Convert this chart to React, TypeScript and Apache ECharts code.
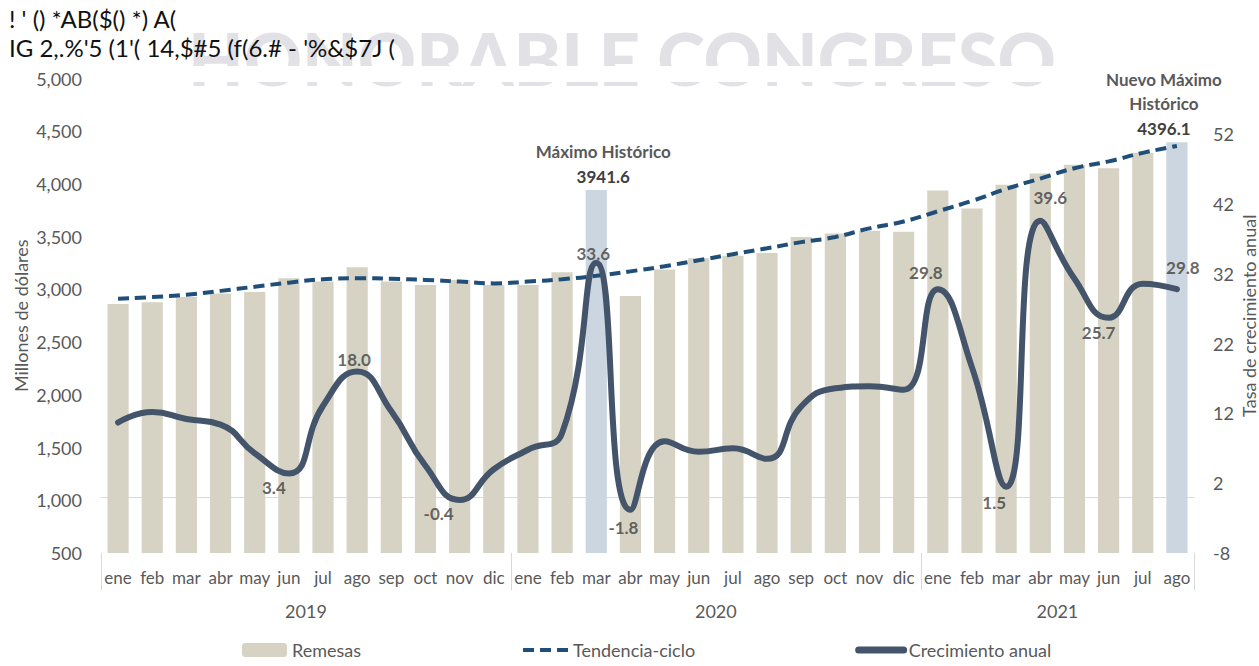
import React, { useEffect, useRef } from "react";
import * as echarts from "echarts";

const monthNames = ["ene", "feb", "mar", "abr", "may", "jun", "jul", "ago", "sep", "oct", "nov", "dic"];
const years = ["2019", "2020", "2021"];
const monthsPerYear = [12, 12, 8];
const categories = years.flatMap((y, k) => monthNames.slice(0, monthsPerYear[k]));

// Remesas (millones de dólares)
const remesas = [
  2862, 2878, 2927, 2960, 2976, 3106, 3074, 3210, 3074, 3041, 3090, 3041,
  3041, 3162, 3941.6, 2937, 3188, 3295, 3318, 3344, 3497, 3530, 3556, 3546,
  3937, 3768, 3992, 4100, 4181, 4149, 4295, 4396.1,
];
// Tendencia-ciclo
const tendencia = [
  2911, 2927, 2950, 2986, 3025, 3064, 3096, 3106, 3100, 3090, 3074, 3057,
  3074, 3096, 3129, 3171, 3220, 3276, 3334, 3390, 3448, 3497, 3579, 3644,
  3741, 3839, 3953, 4051, 4149, 4214, 4295, 4360,
];
// Crecimiento anual (%)
const crecimiento = [
  10.7, 12.2, 11.2, 10.4, 6.3, 3.4, 13.1, 18.0, 12.3, 4.5, -0.4, 4.0,
  6.8, 9.2, 33.6, -1.8, 8.0, 6.5, 7.0, 5.5, 13.0, 15.6, 15.9, 15.4,
  29.8, 18.6, 1.5, 39.6, 31.3, 25.7, 30.6, 29.8,
];
const highlightedBars = [14, 31];
const barAnnotations: Record<number, string[]> = {
  14: ["Máximo Histórico"],
  31: ["Nuevo Máximo", "Histórico"],
};
const growthLabelIdx = [5, 7, 10, 14, 15, 24, 26, 27, 29, 31];
const leftTicks = { min: 500, max: 5000, interval: 500 };
const rightTicks = { min: -8, max: 60, interval: 10 };

const titleLine1 = "! ' () *AB($() *) A(";
const titleLine2 = "IG 2,.%'5 (1'( 14,$#5 (f(6.# - '%&$7J (";
const watermark = "HONORABLE CONGRESO";

// label placement (px offsets), kept separate from the data
const growthLabelOffsets: Record<number, [number, number]> = {
  5: [-15, 14],
  7: [-3, -12],
  10: [-21, 14],
  14: [-3, -9],
  15: [-7, 18],
  24: [-12, -17],
  26: [-12, 16],
  27: [10, -23],
  29: [-10, 15],
  31: [6, -22],
};
const barLabelOffsets: Record<number, [number, number]> = { 14: [7, 0], 31: [-13, 0] };

const FONT = "Lato, 'Noto Sans', sans-serif";
const GREY = "#595959";

export default function App() {
  const ref = useRef<HTMLDivElement>(null);
  useEffect(() => {
    if (!ref.current) return;
    const chart = echarts.init(ref.current, null, { renderer: "svg" });
    const n = categories.length;

    const yearCenters: Record<string, string> = {};
    const boundaries: number[] = [0];
    let start = 0;
    years.forEach((y, k) => {
      yearCenters[(start + monthsPerYear[k] / 2 - 0.5).toFixed(1)] = y;
      start += monthsPerYear[k];
      boundaries.push(start);
    });

    const barData = remesas.map((v, i) => {
      if (!highlightedBars.includes(i)) return v;
      const lines = barAnnotations[i] || [];
      return {
        value: v,
        itemStyle: { color: "#ccd6e0" },
        label: {
          show: true,
          position: "top",
          distance: 1,
          offset: barLabelOffsets[i] || [0, 0],
          formatter: () =>
            lines.map((l) => `{a|${l}}`).join("\n") + (lines.length ? "\n" : "") + `{b|${v.toFixed(1)}}`,
          rich: {
            a: { fontFamily: FONT, fontSize: 17, fontWeight: "bold", color: GREY, lineHeight: 24, align: "center" },
            b: { fontFamily: FONT, fontSize: 17, fontWeight: "bold", color: "#404040", lineHeight: 26, align: "center" },
          },
        },
      };
    });

    const labelData = crecimiento.map((v, i) =>
      growthLabelIdx.includes(i)
        ? {
            value: v,
            label: {
              show: true,
              position: "inside",
              offset: growthLabelOffsets[i] || [0, 0],
              formatter: v.toFixed(1),
              fontFamily: FONT,
              fontSize: 17,
              fontWeight: "bold",
              color: "#404040",
            },
          }
        : "-"
    );

    const baseGraphic = [
      {
        id: "wm",
        type: "text",
        x: 188,
        y: 58,
        z: 0,
        style: {
          text: watermark,
          font: `900 72px ${FONT}`,
          fill: "#e2e2e6",
          textVerticalAlign: "middle",
        },
      },
      {
        id: "wmclip",
        type: "rect",
        z: 1,
        shape: { x: 150, y: 66, width: 950, height: 16 },
        style: { fill: "#ffffff" },
      },
      {
        id: "t1",
        type: "text",
        x: 9,
        y: 18,
        z: 2,
        style: { text: titleLine1, font: `24px ${FONT}`, fill: "#111", textVerticalAlign: "middle" },
      },
      {
        id: "t2",
        type: "text",
        x: 9,
        y: 47,
        z: 2,
        style: { text: titleLine2, font: `24px ${FONT}`, fill: "#111", textVerticalAlign: "middle" },
      },
    ];

    chart.setOption({
      animation: false,
      backgroundColor: "#ffffff",
      textStyle: { fontFamily: FONT },
      grid: { left: 101, right: 65, top: 78.5, bottom: 113, containLabel: false, outerBoundsMode: "none" },
      graphic: baseGraphic,
      legend: {
        left: 242,
        top: 641,
        padding: 0,
        itemWidth: 45,
        itemHeight: 14,
        itemGap: 160,
        data: [
          { name: "Remesas" },
          { name: "Tendencia-ciclo", itemStyle: { opacity: 0 }, lineStyle: { width: 4 } },
          { name: "Crecimiento anual", itemStyle: { opacity: 0 }, lineStyle: { width: 7, cap: "round" } },
        ],
        textStyle: { fontFamily: FONT, fontSize: 18, color: GREY },
      },
      xAxis: [
        {
          type: "category",
          data: categories,
          boundaryGap: true,
          axisLine: { lineStyle: { color: "#d9d9d9", width: 1 } },
          axisTick: { show: false },
          axisLabel: { interval: 0, fontFamily: FONT, fontSize: 17, color: GREY, margin: 16 },
          splitLine: { show: false },
        },
        {
          type: "value",
          position: "bottom",
          offset: 0,
          min: -0.5,
          max: n - 0.5,
          interval: 1,
          axisLine: { show: false },
          axisTick: { show: false },
          splitLine: { show: false },
          axisLabel: {
            fontFamily: FONT,
            fontSize: 18,
            color: GREY,
            margin: 49,
            formatter: (v: number) => yearCenters[v.toFixed(1)] || "",
          },
        },
      ],
      yAxis: [
        {
          type: "value",
          ...leftTicks,
          name: "Millones de dólares",
          nameLocation: "middle",
          nameGap: 71,
          nameRotate: 90,
          nameMoveOverlap: false,
          nameTextStyle: { fontFamily: FONT, fontSize: 18, color: GREY },
          axisLine: { show: false },
          axisTick: { show: false },
          splitLine: { show: false },
          axisLabel: {
            fontFamily: FONT,
            fontSize: 18,
            color: GREY,
            margin: 19,
            formatter: (v: number) => v.toLocaleString("en-US"),
          },
        },
        {
          type: "value",
          position: "right",
          ...rightTicks,
          name: "Tasa de crecimiento anual",
          nameLocation: "middle",
          nameGap: 46,
          nameRotate: 90,
          nameMoveOverlap: false,
          nameTextStyle: { fontFamily: FONT, fontSize: 18, color: GREY },
          axisLine: { show: false },
          axisTick: { show: false },
          splitLine: { show: false },
          axisLabel: {
            fontFamily: FONT,
            fontSize: 18,
            color: GREY,
            margin: 19,
            formatter: (v: number) => (v > 55 ? "" : String(v)),
          },
        },
      ],
      series: [
        {
          type: "bar",
          name: "Remesas",
          data: barData,
          barWidth: "62%",
          itemStyle: { color: "#d6d3c4" },
          z: 1,
        },
        {
          type: "line",
          name: "Tendencia-ciclo",
          data: tendencia,
          smooth: true,
          symbol: "none",
          lineStyle: { color: "#1f4e79", width: 4, type: [11, 6] },
          itemStyle: { color: "#1f4e79" },
          z: 3,
        },
        {
          type: "line",
          name: "Crecimiento anual",
          yAxisIndex: 1,
          data: crecimiento,
          smooth: 0.5,
          symbol: "none",
          lineStyle: { color: "#44546a", width: 6, cap: "round", join: "round" },
          itemStyle: { color: "#44546a" },
          z: 4,
        },
        {
          type: "scatter",
          name: "etiquetas",
          yAxisIndex: 1,
          data: labelData,
          symbolSize: 1,
          itemStyle: { color: "rgba(0,0,0,0)" },
          silent: true,
          z: 5,
        },
      ],
    });

    // year separators below the category axis, placed through the axis scales
    const yAxisBase = chart.convertToPixel({ yAxisIndex: 0 }, leftTicks.min) as number;
    const sepGraphic = boundaries.map((b, k) => {
      const x = Math.round(chart.convertToPixel({ xAxisIndex: 1 }, b - 0.5) as number) + 0.5;
      return {
        id: "sep" + k,
        type: "line",
        z: 3,
        shape: { x1: x, y1: yAxisBase, x2: x, y2: yAxisBase + 37 },
        style: { stroke: "#d9d9d9", lineWidth: 1 },
      };
    });
    chart.setOption({ graphic: [...baseGraphic, ...sepGraphic] });

    return () => chart.dispose();
  }, []);
  return (
    <div
      ref={ref}
      style={{ position: "fixed", left: 0, top: 0, width: 1259, height: 666, background: "#fff" }}
    />
  );
}
